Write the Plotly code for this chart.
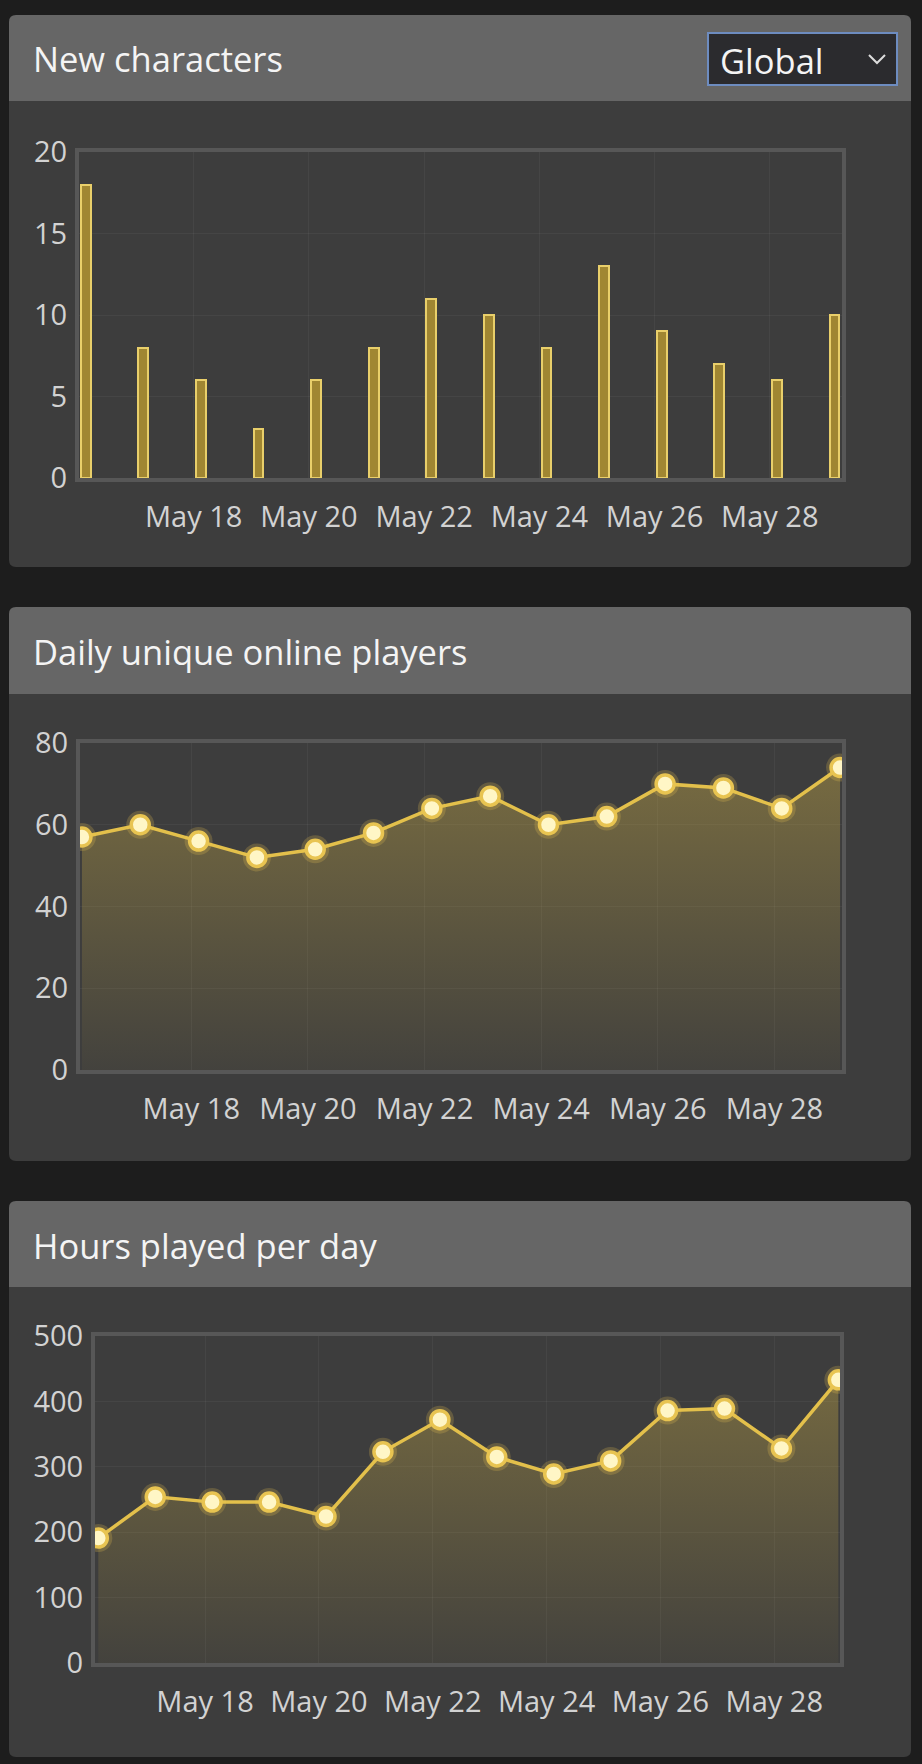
import plotly.graph_objects as go
import pandas as pd

W, H = 922, 1764

# ---------------- data ----------------
dates = ["2024-05-16", "2024-05-17", "2024-05-18", "2024-05-19", "2024-05-20",
         "2024-05-21", "2024-05-22", "2024-05-23", "2024-05-24", "2024-05-25",
         "2024-05-26", "2024-05-27", "2024-05-28", "2024-05-29"]
new_characters = [18, 8, 6, 3, 6, 8, 11, 10, 8, 13, 9, 7, 6, 10]
daily_unique_players = [57, 60, 56, 52, 54, 58, 64, 67, 60, 62, 70, 69, 64, 74]
hours_played = [191, 254, 246, 246, 224, 323, 372, 315, 289, 309, 386, 389, 328, 433]

panel_titles = ["New characters", "Daily unique online players", "Hours played per day"]
dropdown_label = "Global"
y_ticks = [[0, 5, 10, 15, 20], [0, 20, 40, 60, 80], [0, 100, 200, 300, 400, 500]]
x_tick_dates = ["2024-05-18", "2024-05-20", "2024-05-22", "2024-05-24", "2024-05-26", "2024-05-28"]
x_tick_labels = ["May 18", "May 20", "May 22", "May 24", "May 26", "May 28"]

# timestamps are UTC midnights shown in a UTC+3 local time zone
TZ_OFFSET_HOURS = 3
x = pd.to_datetime(dates) + pd.Timedelta(hours=TZ_OFFSET_HOURS)

# ---------------- style ----------------
FONT = "Open Sans"
PAGE_BG = "#1d1d1d"
HEADER_BG = "#666666"
BODY_BG = "#3d3d3d"
PLOT_BG = "#3a3a3c"
FRAME = "#575757"
GRID = "rgba(255,255,255,0.045)"
TICK_COLOR = "#d2d2d2"
GOLD = "#e3c04b"
TITLE_SIZE = 34.5
TICK_SIZE = 29


def X(px):
    return px / W


def Y(py):
    return 1 - py / H


def rrect(x0, y0, x1, y1, rt, rb):
    p = lambda a, b: f"{X(a):.6f},{Y(b):.6f}"
    d = f"M {p(x0 + rt, y0)} L {p(x1 - rt, y0)} Q {p(x1, y0)} {p(x1, y0 + rt)} "
    d += f"L {p(x1, y1 - rb)} Q {p(x1, y1)} {p(x1 - rb, y1)} "
    d += f"L {p(x0 + rb, y1)} Q {p(x0, y1)} {p(x0, y1 - rb)} "
    d += f"L {p(x0, y0 + rt)} Q {p(x0, y0)} {p(x0 + rt, y0)} Z"
    return d


panels = [  # (top, header_bottom, bottom)
    (15, 101, 567),
    (607, 694, 1161),
    (1201, 1287, 1757),
]
plots = [  # (left, right, top, bottom) pixel plot areas
    (79, 842, 152, 478),
    (80, 842, 743, 1070),
    (95, 840, 1336, 1663),
]

fig = go.Figure()
shapes = []
annotations = []
PX0, PX1 = 9, 911
for i, (t, hb, b) in enumerate(panels):
    shapes.append(dict(type="path", xref="paper", yref="paper", layer="below",
                       path=rrect(PX0, hb, PX1, b, 0, 7), fillcolor=BODY_BG, line=dict(width=0)))
    shapes.append(dict(type="path", xref="paper", yref="paper", layer="below",
                       path=rrect(PX0, t, PX1, hb, 7, 0), fillcolor=HEADER_BG, line=dict(width=0)))
    annotations.append(dict(text=panel_titles[i], xref="paper", yref="paper",
                            x=X(31), y=Y((t + hb) / 2 + 1), xanchor="left", yanchor="middle",
                            showarrow=False, font=dict(family=FONT, size=TITLE_SIZE, color="#f4f4f4")))

# dropdown
shapes.append(dict(type="rect", xref="paper", yref="paper", x0=X(708), x1=X(897), y0=Y(33), y1=Y(85),
                   fillcolor="#2b2b2e", line=dict(color="#6d8cc0", width=2)))
shapes.append(dict(type="path", xref="paper", yref="paper",
                   path=f"M {X(869)},{Y(55)} L {X(877)},{Y(63)} L {X(885)},{Y(55)}",
                   line=dict(color="#dddddd", width=2)))
annotations.append(dict(text=dropdown_label, xref="paper", yref="paper", x=X(718), y=Y(60),
                        xanchor="left", yanchor="middle", showarrow=False,
                        font=dict(family=FONT, size=TITLE_SIZE, color="#f4f4f4")))

DAY_MS = 86400000
bar_width_ms = 0.17 * DAY_MS

# chart 1: bars
fig.add_trace(go.Bar(x=x, y=new_characters, width=bar_width_ms, xaxis="x", yaxis="y",
                     marker=dict(color="#a08632", line=dict(color="#e9cf6a", width=2)),
                     showlegend=False))


def line_traces(vals, xa, ya, top):
    fig.add_trace(go.Scatter(x=x, y=vals, xaxis=xa, yaxis=ya, mode="lines", fill="tozeroy",
                             line=dict(color=GOLD, width=3.5),
                             fillgradient=dict(type="vertical", start=0, stop=top,
                                               colorscale=[[0, "rgba(224,190,72,0.04)"],
                                                           [1, "rgba(224,190,72,0.38)"]]),
                             showlegend=False, hoverinfo="skip"))
    fig.add_trace(go.Scatter(x=x, y=vals, xaxis=xa, yaxis=ya, mode="markers",
                             marker=dict(size=28, color="rgba(240,200,80,0.22)"),
                             showlegend=False, hoverinfo="skip"))
    fig.add_trace(go.Scatter(x=x, y=vals, xaxis=xa, yaxis=ya, mode="markers",
                             marker=dict(size=18, color="#fff6c6", line=dict(color="#e8c451", width=3.5)),
                             showlegend=False))


line_traces(daily_unique_players, "x2", "y2", y_ticks[1][-1])
line_traces(hours_played, "x3", "y3", y_ticks[2][-1])

layout = dict(width=W, height=H, margin=dict(l=0, r=0, t=0, b=0, autoexpand=False),
              paper_bgcolor=PAGE_BG, plot_bgcolor=PLOT_BG,
              shapes=shapes, annotations=annotations, bargap=0)

h = pd.Timedelta(hours=1)
ranges = [
    [x[0] - 2.8 * h, x[-1] + 3.1 * h],
    [x[0] - 0.8 * h, x[-1] + 0.8 * h],
    [x[0] - 1.4 * h, x[-1] + 0.7 * h],
]
names = [("xaxis", "yaxis", "x", "y"), ("xaxis2", "yaxis2", "x2", "y2"), ("xaxis3", "yaxis3", "x3", "y3")]
for i, (xn, yn, xr, yr) in enumerate(names):
    l, r, t, b = plots[i]
    layout[xn] = dict(domain=[X(l), X(r)], anchor=yr, type="date", range=ranges[i],
                      tickmode="array", tickvals=x_tick_dates, ticktext=x_tick_labels,
                      showgrid=True, gridcolor=GRID, gridwidth=1,
                      showline=True, mirror=True, linecolor=FRAME, linewidth=4,
                      ticks="outside", ticklen=10, tickcolor="rgba(0,0,0,0)",
                      tickfont=dict(family=FONT, size=TICK_SIZE, color=TICK_COLOR), zeroline=False,
                      automargin=False, fixedrange=True)
    layout[yn] = dict(domain=[Y(b), Y(t)], anchor=xr, range=[y_ticks[i][0], y_ticks[i][-1]],
                      tickmode="array", tickvals=y_ticks[i],
                      showgrid=True, gridcolor=GRID, gridwidth=1,
                      showline=True, mirror=True, linecolor=FRAME, linewidth=4,
                      ticks="outside", ticklen=2, tickcolor="rgba(0,0,0,0)",
                      tickfont=dict(family=FONT, size=TICK_SIZE, color=TICK_COLOR), zeroline=False,
                      automargin=False, fixedrange=True)

fig.update_layout(**layout)
fig.write_html("out.html", config={"displayModeBar": False})
